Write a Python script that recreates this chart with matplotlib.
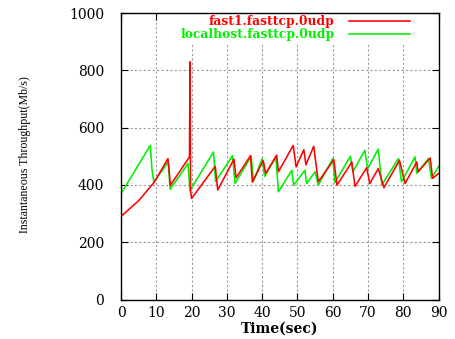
import matplotlib
matplotlib.use("Agg")
import matplotlib.pyplot as plt

# Throughput traces (time in seconds, throughput in Mb/s)
fast1_t = [0, 5, 9.5, 13.3, 14.0, 19.4, 19.55, 19.7, 20.0, 26.7, 27.4, 32.0, 32.6,
           36.7, 37.2, 40.3, 41.0, 44.1, 44.6, 48.8, 49.6, 51.8, 52.4, 54.6, 55.9,
           60.3, 61.2, 65.4, 66.3, 69.6, 70.5, 72.9, 74.5, 78.9, 80.5, 83.8, 84.2,
           87.6, 88.3, 90]
fast1_v = [290, 345, 411, 492, 399, 498, 830, 380, 353, 465, 382, 490, 425,
           502, 410, 485, 440, 504, 446, 538, 463, 523, 470, 535, 411,
           488, 399, 480, 395, 460, 405, 457, 390, 486, 405, 480, 446,
           494, 423, 440]

local_t = [0, 8.3, 8.8, 9.3, 13.4, 13.9, 19.0, 19.5, 26.2, 26.8, 31.6, 32.3,
           36.9, 37.5, 40.0, 40.7, 43.9, 44.6, 48.4, 48.9, 52.1, 52.6, 55.0, 55.9,
           60.0, 60.6, 65.0, 65.7, 69.1, 69.9, 72.9, 73.9, 78.6, 79.5, 83.3, 83.8,
           87.1, 88.0, 90]
local_v = [370, 538, 450, 410, 480, 385, 475, 380, 515, 412, 502, 405,
           500, 412, 492, 430, 496, 376, 451, 399, 451, 405, 446, 399,
           492, 408, 500, 446, 521, 457, 525, 400, 492, 411, 498, 440,
           492, 423, 465]

labels = ["fast1.fasttcp.0udp", "localhost.fasttcp.0udp"]
xticks = list(range(0, 91, 10))
yticks = list(range(0, 1001, 200))

fig = plt.figure(figsize=(4.55, 3.39), dpi=100)
ax = fig.add_axes([0.266, 0.1165, 0.698, 0.845])

ax.plot(fast1_t, fast1_v, color="#ff0000", lw=1.15, label=labels[0], zorder=3)
ax.plot(local_t, local_v, color="#00f000", lw=1.15, label=labels[1], zorder=2)

ax.set_xlim(0, 90)
ax.set_ylim(0, 1000)
ax.set_xticks(xticks)
ax.set_yticks(yticks)

tick_font = dict(family="DejaVu Serif", size=10)
ax.set_xticklabels([str(v) for v in xticks], **tick_font)
ax.set_yticklabels([str(v) for v in yticks], **tick_font)
ax.tick_params(axis="y", pad=12)
ax.tick_params(axis="x", pad=5)
ax.tick_params(direction="in", top=True, right=True, length=5, width=0.8,
               color="black")

ax.grid(True, color="#999999", linestyle=(0, (2, 2)), linewidth=0.8)
ax.set_axisbelow(True)
for s in ax.spines.values():
    s.set_linewidth(1.0)
    s.set_color("black")
    s.set_zorder(6)

ax.set_xlabel("Time(sec)", family="DejaVu Serif", weight="bold", size=10,
              labelpad=1)
fig.text(0.055, 0.543, "Instantaneous Throughput(Mb/s)", rotation=90,
         family="Liberation Serif", size=8.6, ha="center", va="center")

leg = ax.legend(loc="upper right", bbox_to_anchor=(0.935, 1.02), markerfirst=False,
                frameon=True, facecolor="white", edgecolor="none", framealpha=1.0,
                fancybox=False, borderpad=0.15, handlelength=5.0, handletextpad=1.2,
                labelspacing=0.0, labelcolor="linecolor",
                prop=dict(family="DejaVu Serif", weight="bold", size=8.8))
leg.set_zorder(5)

fig.savefig("out.png", dpi=100)
